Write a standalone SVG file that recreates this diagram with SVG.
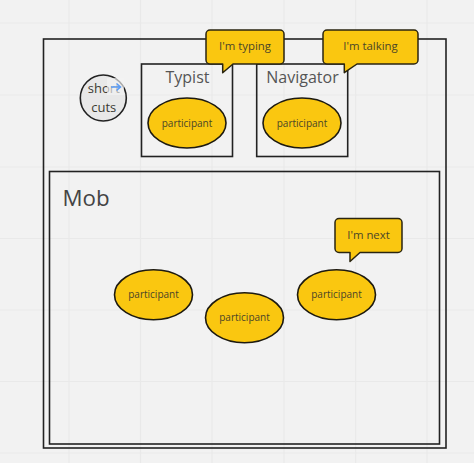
<svg xmlns="http://www.w3.org/2000/svg" width="474" height="463" viewBox="0 0 474 463">
<style>
text{font-family:"Open Sans","Noto Sans",sans-serif;text-anchor:middle;fill:#3b3a32}
.grid{stroke:#e9e9e9;stroke-width:1.2;fill:none}
.box{fill:none;stroke:#222;stroke-width:1.6}
.p{fill:#fac710;stroke:#1d1a10;stroke-width:1.6}
.b{fill:#fac710;stroke:#2a2510;stroke-width:1.5;stroke-linejoin:round}
.pt{font-size:10px;fill:#4a4528}
.bt{font-size:11.4px;fill:#4a4528}
.tt{font-size:16px;fill:#555}
</style>
<rect width="474" height="463" fill="#f2f2f2"/>
<g id="grid" class="grid">
<path d="M69 0V463M140.500 0V463M212 0V463M284 0V463M355.700 0V463M427 0V463M0 23H474M0 95H474M0 167H474M0 238.500H474M0 310H474M0 381.500H474M0 453H474"/>
</g>
<g id="frame"><rect class="box" x="43.500" y="39" width="402.500" height="409"/></g>
<g id="typist-box"><rect class="box" x="141.500" y="64" width="91" height="92.500"/><text class="tt" x="187.500" y="83">Typist</text></g>
<g id="navigator-box"><rect class="box" x="256.700" y="64" width="91" height="92.500"/><text class="tt" x="302.500" y="83">Navigator</text></g>
<g id="mob-box"><rect class="box" x="49.500" y="171.500" width="390" height="272.500"/><text x="86" y="206" font-size="22.300" style="fill:#444">Mob</text></g>
<g id="shortcuts">
<circle cx="103.300" cy="98" r="23" fill="#e8e8e8" stroke="#222" stroke-width="1.600"/>
<text x="103.800" y="93" font-size="13">short</text>
<text x="103.800" y="112" font-size="13">cuts</text>
<rect x="107" y="78" width="17" height="17" fill="#f2f2f2" fill-opacity="0.650"/>
<path d="M111 87H120M116.500 83.500L120.500 87L116.500 90.500" fill="none" stroke="#5b9cf5" stroke-width="1.500"/>
</g>
<g id="participant-typist"><ellipse class="p" cx="187" cy="123" rx="39" ry="25"/><text class="pt" x="187" y="126.500">participant</text></g>
<g id="participant-navigator"><ellipse class="p" cx="302" cy="123" rx="39" ry="25"/><text class="pt" x="302" y="126.500">participant</text></g>
<g id="participant-1"><ellipse class="p" cx="153.500" cy="294.700" rx="39" ry="25"/><text class="pt" x="153.500" y="298">participant</text></g>
<g id="participant-2"><ellipse class="p" cx="244.500" cy="317.700" rx="39" ry="25"/><text class="pt" x="244.500" y="321">participant</text></g>
<g id="participant-3"><ellipse class="p" cx="336.500" cy="294.700" rx="39" ry="25"/><text class="pt" x="336.500" y="298">participant</text></g>
<g id="bubble-typing"><path class="b" d="M210 30H280a4 4 0 0 1 4 4V60a4 4 0 0 1-4 4H233L222.700 72.700V64H210a4 4 0 0 1-4-4V34a4 4 0 0 1 4-4Z"/><text class="bt" x="245" y="50">I'm typing</text></g>
<g id="bubble-talking"><path class="b" d="M327 30H414a4 4 0 0 1 4 4V60a4 4 0 0 1-4 4H357L344.300 72.700V64H327a4 4 0 0 1-4-4V34a4 4 0 0 1 4-4Z"/><text class="bt" x="370.500" y="50">I'm talking</text></g>
<g id="bubble-next"><path class="b" d="M339 218.500H398a4 4 0 0 1 4 4V248.500a4 4 0 0 1-4 4H360L350 261.500V252.500H339a4 4 0 0 1-4-4V222.500a4 4 0 0 1 4-4Z"/><text class="bt" x="368.500" y="238.500">I'm next</text></g>
<g id="connectors"/>
</svg>
